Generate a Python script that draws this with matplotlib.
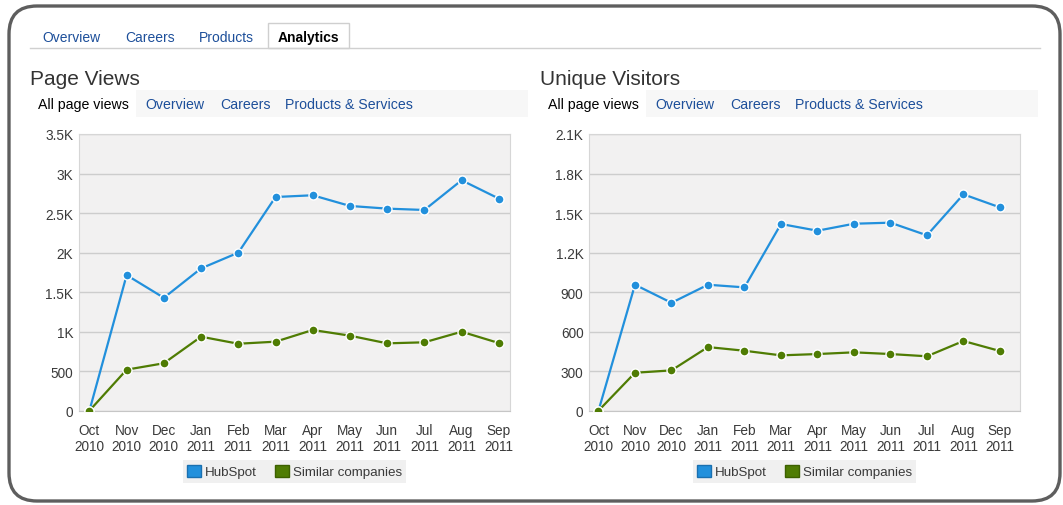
import matplotlib.pyplot as plt
from matplotlib.patches import FancyBboxPatch, Rectangle, Patch

plt.rcParams['font.family'] = ['Liberation Sans', 'DejaVu Sans']

# ---- data ----
months = ['Oct\n2010', 'Nov\n2010', 'Dec\n2010', 'Jan\n2011', 'Feb\n2011', 'Mar\n2011',
          'Apr\n2011', 'May\n2011', 'Jun\n2011', 'Jul\n2011', 'Aug\n2011', 'Sep\n2011']

pv_hubspot = [0, 1715, 1428, 1800, 1999, 2703, 2725, 2590, 2556, 2539, 2915, 2683]
pv_similar = [0, 519, 600, 936, 847, 873, 1021, 949, 852, 865, 999, 856]

uv_hubspot = [0, 956, 819, 956, 936, 1417, 1366, 1419, 1427, 1331, 1642, 1543]
uv_similar = [0, 288, 306, 483, 455, 420, 430, 443, 430, 413, 529, 453]

pv_ticks = [0, 500, 1000, 1500, 2000, 2500, 3000, 3500]
pv_labels = ['0', '500', '1K', '1.5K', '2K', '2.5K', '3K', '3.5K']
uv_ticks = [0, 300, 600, 900, 1200, 1500, 1800, 2100]
uv_labels = ['0', '300', '600', '900', '1.2K', '1.5K', '1.8K', '2.1K']

tabs = ['Overview', 'Careers', 'Products', 'Analytics']
subnav = ['All page views', 'Overview', 'Careers', 'Products & Services']

BLUE = '#2290dc'
GREEN = '#4f7c03'
LINK = '#1d4f9a'
W, H = 1063, 506

fig = plt.figure(figsize=(W / 100, H / 100), dpi=100)

# background canvas in pixel coordinates
bg = fig.add_axes([0, 0, 1, 1])
bg.set_xlim(0, W)
bg.set_ylim(H, 0)
bg.axis('off')

bg.add_patch(FancyBboxPatch((9, 7), 1051, 495, boxstyle='round,pad=0,rounding_size=28',
                            facecolor='white', edgecolor='#5e5e5e', linewidth=2.4))

# tabs
bg.plot([30, 1040], [48.5, 48.5], color='#d0d0d0', lw=1)
bg.add_patch(Rectangle((268, 24), 81, 24.5, facecolor='white', edgecolor='#cfcfcf', lw=1))
tab_x = [42, 125, 199, 278]
for x, t in zip(tab_x, tabs):
    bold = t == 'Analytics'
    bg.text(x, 38, t, fontsize=10, va='center', ha='left',
            color='black' if bold else LINK, fontweight='bold' if bold else 'normal')

# section titles + sub navigation
for x0, title in [(30, 'Page Views'), (540, 'Unique Visitors')]:
    bg.text(x0, 79, title, fontsize=15, va='center', ha='left', color='#333333')
    bg.add_patch(Rectangle((x0 + 106, 91), 392, 27, facecolor='#f7f7f7', edgecolor='none'))
    for dx, t in zip([8, 115, 190, 255], subnav):
        bg.text(x0 + dx, 105, t, fontsize=10.2, va='center', ha='left',
                color='black' if t == 'All page views' else LINK)


def px_axes(x0, x1, y0, y1):
    return fig.add_axes([x0 / W, 1 - y1 / H, (x1 - x0) / W, (y1 - y0) / H])


def draw_chart(ax, hub, sim, ticks, labels, xlim):
    x = range(len(months))
    ax.set_facecolor('#f2f1f1')
    ax.plot(x, hub, color=BLUE, lw=1.6, marker='o', ms=6.5, mfc=BLUE, mec='white', mew=1, zorder=3)
    ax.plot(x, sim, color=GREEN, lw=1.6, marker='o', ms=6.5, mfc=GREEN, mec='white', mew=1, zorder=3)
    ax.set_xlim(*xlim)
    ax.set_ylim(ticks[0], ticks[-1])
    ax.set_yticks(ticks)
    ax.set_yticklabels(labels)
    ax.set_xticks(list(x))
    ax.set_xticklabels(months, linespacing=1.15)
    ax.grid(axis='y', color='#cdcdcd', lw=1)
    ax.set_axisbelow(True)
    ax.tick_params(length=0, labelsize=9.8, colors='#3a3a3a')
    ax.tick_params(axis='y', pad=4)
    ax.tick_params(axis='x', pad=9)
    for s in ax.spines.values():
        s.set_color('#d6d6d6')
    ax.spines['bottom'].set_color('#c6c6c6')
    handles = [Patch(facecolor=BLUE, edgecolor='#1a70b0', label='HubSpot'),
               Patch(facecolor=GREEN, edgecolor='#3d6000', label='Similar companies')]
    leg = ax.legend(handles=handles, loc='upper center', bbox_to_anchor=(0.5, -0.155), ncol=2,
                    frameon=True, fancybox=False, fontsize=9.6, handlelength=1.0, handleheight=1.0,
                    handletextpad=0.3, columnspacing=1.4, borderpad=0.35)
    leg.get_frame().set_facecolor('#ededed')
    leg.get_frame().set_edgecolor('none')
    for t in leg.get_texts():
        t.set_color('#3a3a3a')


ax1 = px_axes(79, 510, 135, 411.7)
draw_chart(ax1, pv_hubspot, pv_similar, pv_ticks, pv_labels, (-0.28, 11.3))

ax2 = px_axes(589, 1020, 135, 411.7)
draw_chart(ax2, uv_hubspot, uv_similar, uv_ticks, uv_labels, (-0.26, 11.55))

fig.savefig('out.png', dpi=100)
